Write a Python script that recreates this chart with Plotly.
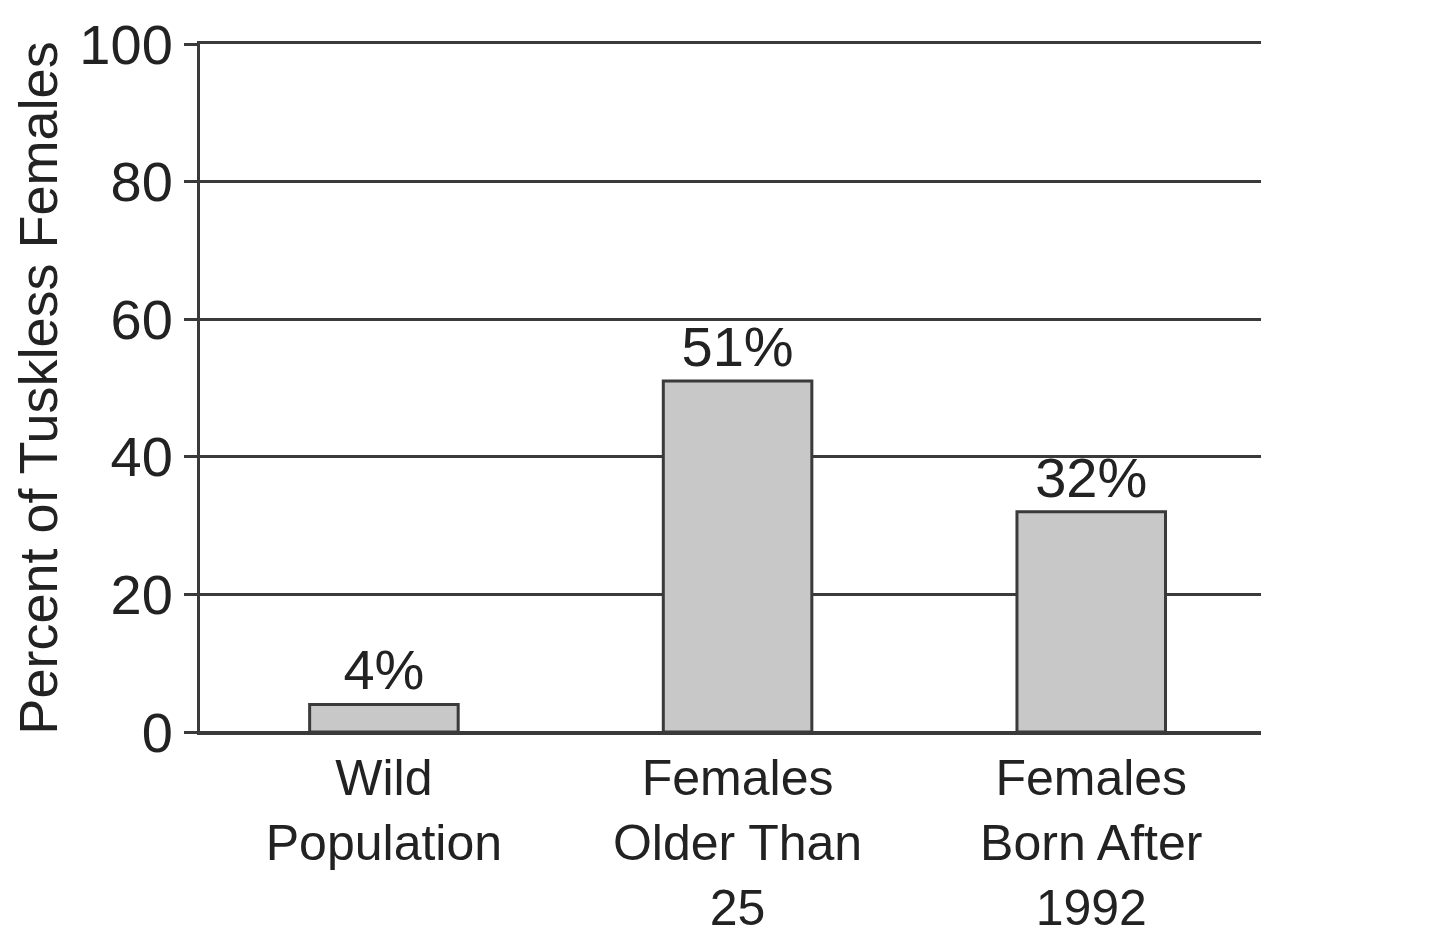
import plotly.graph_objects as go

categories = ["Wild<br>Population", "Females<br>Older Than<br>25", "Females<br>Born After<br>1992"]
percent_tuskless = [4, 51, 32]
y_ticks = [0, 20, 40, 60, 80, 100]

ink = "#3a3a3a"
font_name = "Liberation Sans, Arial, sans-serif"

fig = go.Figure()
fig.add_trace(go.Bar(
    x=categories,
    y=percent_tuskless,
    width=0.42,
    marker=dict(color="#c8c8c8", line=dict(color=ink, width=3)),
    text=[f"{v}%" for v in percent_tuskless],
    textposition="outside",
    textfont=dict(size=56, color="#222"),
    cliponaxis=False,
))

# page body has an 8px margin, so size the figure to the visible area
fig.update_layout(
    width=1432, height=936,
    margin=dict(l=192, r=179, t=36, b=212),
    paper_bgcolor="white", plot_bgcolor="white",
    font=dict(family=font_name, color="#222"),
    showlegend=False,
)
fig.update_xaxes(
    range=[-0.52, 2.48], automargin=False,
    showgrid=False, ticks="",
    showline=True, mirror=True, linecolor=ink, linewidth=3,
    tickfont=dict(size=50),
)
fig.update_yaxes(
    range=[0, 100], tickvals=y_ticks, automargin=False,
    showgrid=True, gridcolor=ink, gridwidth=3,
    zeroline=True, zerolinecolor=ink, zerolinewidth=3,
    showline=True, linecolor=ink, linewidth=3,
    ticks="outside", ticklen=13, tickwidth=3, tickcolor=ink,
    tickfont=dict(size=56),
    title=dict(text="Percent of Tuskless Females", font=dict(size=54), standoff=25),
)

fig.write_html("out.html")
